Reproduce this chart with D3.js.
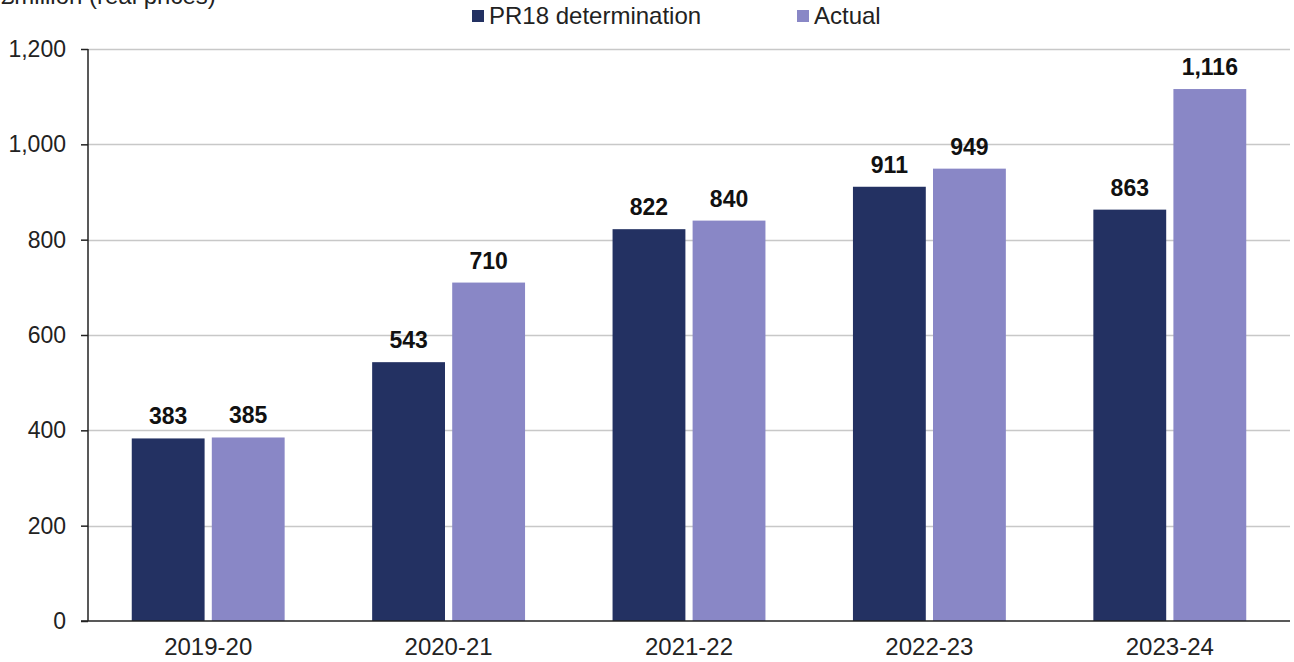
<!DOCTYPE html>
<html><head><meta charset="utf-8">
<script src="https://cdn.jsdelivr.net/npm/d3@7"></script>
<style>body{margin:0;background:#fff}svg{display:block;font-family:"Liberation Sans",Arial,sans-serif}</style>
</head><body><svg id="c" width="1294" height="662"></svg>
<script>
const categories = ["2019-20","2020-21","2021-22","2022-23","2023-24"];
const seriesNames = ["PR18 determination","Actual"];
const pr18 = [383,543,822,911,863];
const actual = [385,710,840,949,1116];
const yTicks = [0,200,400,600,800,1000,1200];
const colors = ["#233162","#8987C6"];

const svg = d3.select("#c");
const y = d3.scaleLinear().domain([0,1200]).range([621,49]);
const x0 = d3.scaleBand().domain(categories).range([88,1290]).paddingInner(0.364).paddingOuter(0.182);
const x1 = d3.scaleBand().domain(seriesNames).range([0,x0.bandwidth()]).paddingInner(0.09);
const fmt = d3.format(",");

// unit label (cut off at top, as in the reference)
svg.append("text").attr("x",1).attr("y",4).attr("font-size",24).attr("fill","#222").text("£million (real prices)");

// gridlines
svg.append("g").selectAll("line").data(yTicks.filter(d=>d>0)).join("line")
  .attr("x1",88).attr("x2",1290).attr("y1",d=>Math.round(y(d))+0.5).attr("y2",d=>Math.round(y(d))+0.5)
  .attr("stroke","#c8c8c8").attr("stroke-width",1.5);

// y axis
const ya = svg.append("g").attr("transform","translate(88,0)")
  .call(d3.axisLeft(y).tickValues(yTicks).tickFormat(fmt).tickSize(7).tickPadding(15));
ya.select(".domain").attr("stroke","#222").attr("stroke-width",1.5).attr("d","M0,"+y(1200)+"V"+y(0));
ya.selectAll(".tick line").attr("stroke","#222").attr("stroke-width",1.5);
ya.selectAll(".tick text").attr("font-size",23).attr("fill","#222").attr("font-family","Liberation Sans, Arial, sans-serif");

// bars
const data = categories.map((c,i)=>({cat:c, vals:[{s:seriesNames[0],v:pr18[i],k:0},{s:seriesNames[1],v:actual[i],k:1}]}));
const g = svg.append("g").selectAll("g").data(data).join("g").attr("transform",d=>`translate(${x0(d.cat)},0)`);
g.selectAll("rect").data(d=>d.vals).join("rect")
  .attr("x",d=>x1(d.s)).attr("width",x1.bandwidth())
  .attr("y",d=>y(d.v)).attr("height",d=>y(0)-y(d.v)).attr("fill",d=>colors[d.k]);
g.selectAll("text").data(d=>d.vals).join("text")
  .attr("x",d=>x1(d.s)+x1.bandwidth()/2).attr("y",d=>y(d.v)-14)
  .attr("text-anchor","middle").attr("font-size",23).attr("font-weight","bold").attr("fill","#111")
  .text(d=>fmt(d.v));

// x axis
const xa = svg.append("g").attr("transform","translate(0,621)")
  .call(d3.axisBottom(x0).tickSize(0).tickPadding(17));
xa.select(".domain").attr("stroke","#222").attr("stroke-width",1.5).attr("d","M81,0H1290");
xa.selectAll(".tick text").attr("font-size",24).attr("fill","#222").attr("font-family","Liberation Sans, Arial, sans-serif");

// legend
const legX = [472,797];
const lg = svg.append("g").selectAll("g").data(seriesNames).join("g").attr("transform",(d,i)=>`translate(${legX[i]},0)`);
lg.append("rect").attr("x",0).attr("y",10).attr("width",12).attr("height",12).attr("fill",(d,i)=>colors[i]);
lg.append("text").attr("x",17).attr("y",24).attr("font-size",24).attr("fill","#222").text(d=>d);
</script></body></html>
